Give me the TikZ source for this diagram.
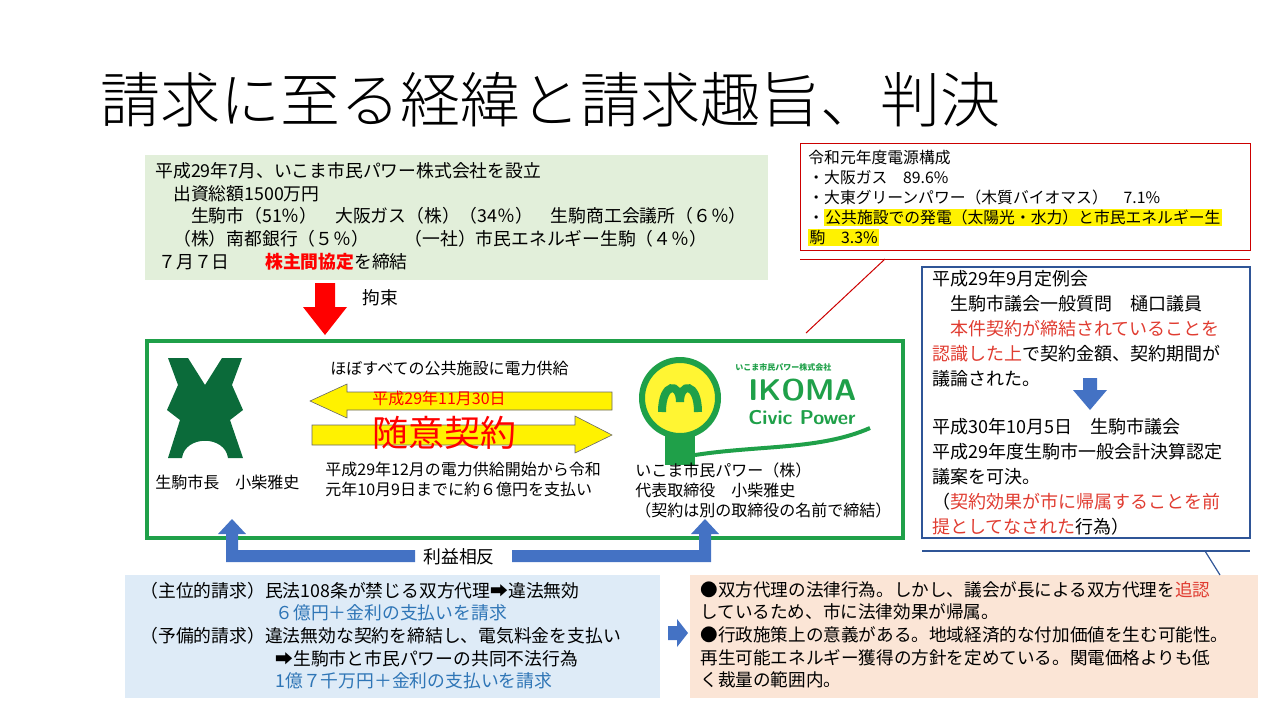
\documentclass[tikz,border=0pt]{standalone}
\usepackage{fontspec}
\setmainfont{Noto Sans CJK JP}
\newfontfamily\titlefont{Noto Sans CJK JP Light}
\usetikzlibrary{arrows.meta}
\definecolor{boxgreen}{HTML}{E2EFDA}
\definecolor{boxblue}{HTML}{DEEBF7}
\definecolor{boxpeach}{HTML}{FBE5D6}
\definecolor{frame}{HTML}{1FA049}
\definecolor{logogreen}{HTML}{0B6B3A}
\definecolor{arrowblue}{HTML}{4472C4}
\definecolor{navy}{HTML}{2F5597}
\definecolor{txtred}{HTML}{E03C31}
\definecolor{txtblue}{HTML}{2E75B6}
\tikzset{
  txt/.style={anchor=west, inner sep=0pt, font=\fontsize{8}{10}\selectfont},
  midtxt/.style={anchor=west, inner sep=0pt, font=\fontsize{8.9}{11}\selectfont},
  bigtxt/.style={anchor=west, inner sep=0pt, font=\fontsize{9}{12.5}\selectfont},
  yarrow/.style={fill=yellow, draw=black!60, line width=0.3pt}
}
\newcommand{\hilite}[1]{{\setlength{\fboxsep}{0.6pt}\colorbox{yellow}{#1}}}
\begin{document}
\begin{tikzpicture}[x=0.5pt,y=-0.5pt]
\useasboundingbox (0,0) rectangle (1280,720);

% Title
\node[anchor=west, inner sep=0pt, font=\titlefont\fontsize{30}{32}\selectfont] (title) at (100,100) {請求に至る経緯と請求趣旨、判決};

% Establishment box
\fill[boxgreen] (145,155) rectangle (768,280);
\node[midtxt] (est1) at (155,171) {平成29年7月、いこま市民パワー株式会社を設立};
\node[midtxt] (est2) at (155,194) {\quad 出資総額1500万円};
\node[midtxt] (est3) at (155,216) {\qquad 生駒市（51％）　大阪ガス（株）（34％）　生駒商工会議所（６％）};
\node[midtxt] (est4) at (155,239) {\quad（株）南都銀行（５％）　　（一社）市民エネルギー生駒（４％）};
\node[midtxt] (est5) at (158,262) {７月７日　　\textcolor{red}{\bfseries 株主間協定}を締結};

% Binding arrow
\fill[red] (315,283) -- (335,283) -- (335,307) -- (347,307) -- (325,335) -- (303,307) -- (315,307) -- cycle;
\node[midtxt] (bind) at (362,298) {拘束};

% Contract frame
\draw[frame, line width=2pt] (147,341) rectangle (903,538);

% City emblem
\fill[logogreen] (168,358) -- (188,358) -- (205,385) -- (222,358) -- (242,358)
  -- (232,385) -- (243,410) -- (230,420) -- (243,458) -- (228,458)
  .. controls (225,435) and (185,435) .. (182,458) -- (168,458)
  -- (180,420) -- (167,410) -- (178,385) -- cycle;
\node[txt] (mayor) at (155,482) {生駒市長　小柴雅史};

% Supply arrows
\node[txt] (supply) at (330,368) {ほぼすべての公共施設に電力供給};
\draw[yarrow] (612,392) -- (347,392) -- (347,384) -- (310,401) -- (347,418) -- (347,410) -- (612,410) -- cycle;
\draw[yarrow] (312,425) -- (575,425) -- (575,416) -- (612,435) -- (575,453) -- (575,445) -- (312,445) -- cycle;
\node[txt, text=red] (date) at (372,398) {平成29年11月30日};
\node[txt, text=red, font=\fontsize{18}{20}\selectfont] (contract) at (372,433) {随意契約};
\node[txt, align=left, anchor=north west] (paid) at (325,462) {平成29年12月の電力供給開始から令和\\元年10月9日までに約６億円を支払い};

% IKOMA Civic Power logo
\draw[frame, line width=3pt, fill=yellow!80] (680,398) circle (38);
\fill[frame] (665,433) rectangle (695,465);
\draw[frame, line width=4pt] (662,412) .. controls (662,382) and (680,382) .. (680,402) .. controls (680,382) and (698,382) .. (698,412);
\draw[frame, line width=2pt] (695,455) .. controls (760,445) and (820,450) .. (870,428);
\node[txt, text=frame, font=\fontsize{4}{5}\selectfont\bfseries] (cmp) at (735,367) {いこま市民パワー株式会社};
\node[txt, text=frame, font=\fontsize{15}{16}\sffamily\bfseries] (ikoma) at (748,390) {IKOMA};
\node[txt, text=frame, font=\fontsize{10}{12}\sffamily\bfseries] (civic) at (748,418) {Civic Power};
\node[txt, align=left, anchor=north west] (rep) at (635,462) {いこま市民パワー（株）\\代表取締役　小柴雅史\\（契約は別の取締役の名前で締結）};

% Conflict of interest arrows
\node[midtxt] (coi) at (423,557) {利益相反};
\fill[arrowblue] (415,550) -- (238,550) -- (238,534) -- (246,534) -- (232,519) -- (218,534) -- (226,534) -- (226,562) -- (415,562) -- cycle;
\fill[arrowblue] (512,550) -- (699,550) -- (699,534) -- (691,534) -- (705,519) -- (719,534) -- (711,534) -- (711,562) -- (512,562) -- cycle;

% Claims box
\fill[boxblue] (125,575) rectangle (660,698);
\node[midtxt] (c1) at (140,591) {（主位的請求）民法108条が禁じる双方代理➡違法無効};
\node[midtxt, text=txtblue] (c2) at (275,613) {６億円＋金利の支払いを請求};
\node[midtxt] (c3) at (140,636) {（予備的請求）違法無効な契約を締結し、電気料金を支払い};
\node[midtxt] (c4) at (275,659) {➡生駒市と市民パワーの共同不法行為};
\node[midtxt, text=txtblue] (c5) at (275,681) {1億７千万円＋金利の支払いを請求};
\fill[arrowblue] (668,626) -- (677,626) -- (677,619) -- (688,633) -- (677,647) -- (677,640) -- (668,640) -- cycle;

% Judgement box
\fill[boxpeach] (690,575) rectangle (1258,698);
\node[txt, align=left, anchor=north west, font=\fontsize{8.8}{11.3}\selectfont] (jud) at (700,581) {●双方代理の法律行為。しかし、議会が長による双方代理を\textcolor{txtred}{追認}\\しているため、市に法律効果が帰属。\\●行政施策上の意義がある。地域経済的な付加価値を生む可能性。\\再生可能エネルギー獲得の方針を定めている。関電価格よりも低\\く裁量の範囲内。};

% Power source callout
\draw[red!80!black, line width=0.5pt] (800,143) rectangle (1250,250);
\draw[red!80!black, line width=0.5pt] (800,259) -- (1250,259);
\draw[red!80!black, line width=0.5pt] (885,259) -- (806,333);
\node[txt, font=\fontsize{7.9}{10}\selectfont, align=left, anchor=north west] (src) at (808,150) {令和元年度電源構成\\・大阪ガス　89.6\%\\・大東グリーンパワー（木質バイオマス）　7.1\%\\・\hilite{公共施設での発電（太陽光・水力）と市民エネルギー生}\\\hilite{駒　3.3\%}};

% Council callout
\draw[navy, line width=1pt] (922,267) rectangle (1250,538);
\draw[navy, line width=1pt] (922,551) -- (1250,551);
\draw[navy, line width=0.6pt] (1205,551) -- (1220,575);
\node[bigtxt, align=left, anchor=north west] (cnc1) at (932,270) {平成29年9月定例会\\\quad 生駒市議会一般質問　樋口議員\\\quad \textcolor{txtred}{本件契約が締結されていることを}\\\textcolor{txtred}{認識した上}で契約金額、契約期間が\\議論された。};
\fill[arrowblue] (1083,378) -- (1097,378) -- (1097,390) -- (1107,390) -- (1090,410) -- (1073,390) -- (1083,390) -- cycle;
\node[bigtxt, align=left, anchor=north west] (cnc2) at (932,418) {平成30年10月5日　生駒市議会\\平成29年度生駒市一般会計決算認定\\議案を可決。\\（\textcolor{txtred}{契約効果が市に帰属することを前}\\\textcolor{txtred}{提としてなされた}行為）};
\end{tikzpicture}
\end{document}
